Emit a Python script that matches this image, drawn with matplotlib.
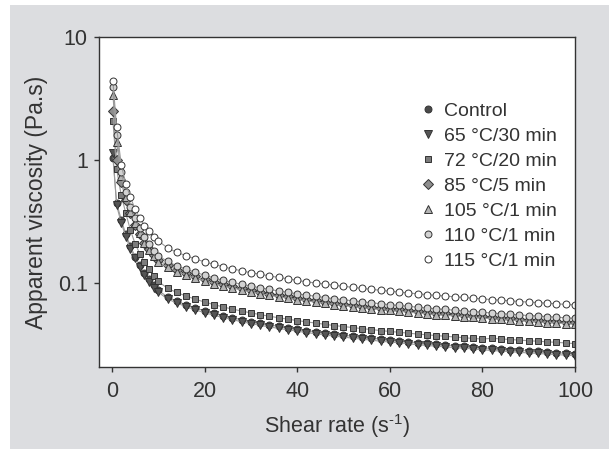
import matplotlib
matplotlib.use("Agg")
import matplotlib.pyplot as plt
from matplotlib.patches import Rectangle
from matplotlib.ticker import FixedLocator, NullLocator, FixedFormatter

plt.rcParams['font.family'] = ['Liberation Sans', 'DejaVu Sans']
plt.rcParams['mathtext.fontset'] = 'custom'
plt.rcParams['mathtext.rm'] = 'Liberation Sans'

# shear rate (1/s)
shear_rate = [0.2, 1, 2, 3, 4, 5, 6, 7, 8, 9, 10,
              12, 14, 16, 18, 20, 22, 24, 26, 28, 30,
              32, 34, 36, 38, 40, 42, 44, 46, 48, 50,
              52, 54, 56, 58, 60, 62, 64, 66, 68, 70,
              72, 74, 76, 78, 80, 82, 84, 86, 88, 90,
              92, 94, 96, 98, 100]

# apparent viscosity (Pa.s)
control = [1.05, 0.45, 0.33, 0.25, 0.20, 0.165, 0.14, 0.122, 0.108, 0.097, 0.088,
           0.0776, 0.0718, 0.0672, 0.0633, 0.0601, 0.0573, 0.0548, 0.0527, 0.0508, 0.0490,
           0.0475, 0.0461, 0.0448, 0.0436, 0.0425, 0.0415, 0.0405, 0.0396, 0.0388, 0.0380,
           0.0373, 0.0366, 0.0360, 0.0353, 0.0347, 0.0342, 0.0336, 0.0331, 0.0326, 0.0321,
           0.0317, 0.0313, 0.0309, 0.0304, 0.0301, 0.0297, 0.0293, 0.0290, 0.0286, 0.0283,
           0.0281, 0.0277, 0.0275, 0.0271, 0.0269]
t65_30 = [1.15, 0.43, 0.31, 0.24, 0.19, 0.16, 0.135, 0.117, 0.103, 0.092, 0.085,
          0.0749, 0.0693, 0.0649, 0.0611, 0.0580, 0.0553, 0.0529, 0.0508, 0.0490, 0.0473,
          0.0458, 0.0444, 0.0432, 0.0421, 0.0410, 0.0400, 0.0391, 0.0382, 0.0374, 0.0367,
          0.0360, 0.0353, 0.0347, 0.0340, 0.0335, 0.0330, 0.0324, 0.0319, 0.0314, 0.0310,
          0.0306, 0.0302, 0.0298, 0.0294, 0.0290, 0.0286, 0.0283, 0.0280, 0.0276, 0.0273,
          0.0271, 0.0267, 0.0265, 0.0262, 0.0259]
t72_20 = [2.1, 0.85, 0.52, 0.37, 0.27, 0.21, 0.175, 0.15, 0.13, 0.115, 0.104,
          0.0913, 0.0845, 0.0791, 0.0745, 0.0707, 0.0674, 0.0645, 0.0620, 0.0598, 0.0577,
          0.0559, 0.0542, 0.0527, 0.0513, 0.0500, 0.0488, 0.0477, 0.0466, 0.0456, 0.0447,
          0.0439, 0.0430, 0.0423, 0.0415, 0.0408, 0.0402, 0.0395, 0.0389, 0.0383, 0.0378,
          0.0373, 0.0368, 0.0363, 0.0358, 0.0354, 0.0359, 0.0355, 0.0351, 0.0347, 0.0343,
          0.0340, 0.0336, 0.0333, 0.0329, 0.0325]
t85_5 = [2.5, 1.0, 0.66, 0.48, 0.37, 0.30, 0.25, 0.215, 0.19, 0.17, 0.155,
         0.140, 0.129, 0.121, 0.114, 0.108, 0.103, 0.0987, 0.0949, 0.0915, 0.0883,
         0.0855, 0.0829, 0.0806, 0.0785, 0.0765, 0.0747, 0.0730, 0.0713, 0.0698, 0.0684,
         0.0672, 0.0658, 0.0647, 0.0635, 0.0624, 0.0615, 0.0604, 0.0595, 0.0586, 0.0578,
         0.0571, 0.0563, 0.0555, 0.0548, 0.0542, 0.0534, 0.0528, 0.0522, 0.0516, 0.0509,
         0.0505, 0.0499, 0.0494, 0.0488, 0.0483]
t105_1 = [3.4, 1.4, 0.74, 0.50, 0.38, 0.31, 0.255, 0.215, 0.188, 0.166, 0.150,
          0.135, 0.125, 0.117, 0.110, 0.105, 0.0998, 0.0955, 0.0918, 0.0885, 0.0854,
          0.0827, 0.0802, 0.0780, 0.0759, 0.0740, 0.0722, 0.0706, 0.0690, 0.0675, 0.0662,
          0.0650, 0.0636, 0.0626, 0.0614, 0.0604, 0.0595, 0.0585, 0.0576, 0.0567, 0.0559,
          0.0552, 0.0545, 0.0537, 0.0530, 0.0524, 0.0517, 0.0511, 0.0505, 0.0499, 0.0493,
          0.0488, 0.0482, 0.0478, 0.0472, 0.0468]
t110_1 = [3.9, 1.6, 0.80, 0.55, 0.42, 0.34, 0.28, 0.24, 0.21, 0.185, 0.168,
          0.151, 0.139, 0.131, 0.123, 0.117, 0.111, 0.106, 0.102, 0.0987, 0.0952,
          0.0922, 0.0894, 0.0870, 0.0846, 0.0825, 0.0805, 0.0787, 0.0769, 0.0752, 0.0738,
          0.0724, 0.0710, 0.0698, 0.0685, 0.0673, 0.0663, 0.0652, 0.0642, 0.0632, 0.0624,
          0.0615, 0.0607, 0.0599, 0.0591, 0.0584, 0.0576, 0.0569, 0.0563, 0.0556, 0.0549,
          0.0545, 0.0538, 0.0533, 0.0526, 0.0521]
t115_1 = [4.4, 1.85, 0.92, 0.64, 0.50, 0.40, 0.34, 0.295, 0.265, 0.24, 0.222,
          0.194, 0.179, 0.168, 0.158, 0.150, 0.143, 0.137, 0.131, 0.127, 0.122,
          0.119, 0.115, 0.112, 0.109, 0.106, 0.103, 0.101, 0.0988, 0.0967, 0.0948,
          0.0931, 0.0912, 0.0897, 0.0880, 0.0865, 0.0852, 0.0837, 0.0825, 0.0812, 0.0801,
          0.0791, 0.0780, 0.0770, 0.0759, 0.0750, 0.0740, 0.0731, 0.0723, 0.0714, 0.0706,
          0.0700, 0.0691, 0.0685, 0.0676, 0.0670]

labels = ['Control', '65 °C/30 min', '72 °C/20 min', '85 °C/5 min',
          '105 °C/1 min', '110 °C/1 min', '115 °C/1 min']
series = [control, t65_30, t72_20, t85_5, t105_1, t110_1, t115_1]
markers = ['o', 'v', 's', 'D', '^', 'o', 'o']
fills = ['#4a4a4a', '#555555', '#7b7b7b', '#8e8e8e', '#b4b4b4', '#d2d2d2', '#ffffff']
sizes = [5.0, 5.5, 5.0, 4.6, 5.5, 5.0, 5.0]

fig = plt.figure(figsize=(6.09, 4.49), dpi=100)
fig.patch.set_facecolor('white')
fig.patches.append(Rectangle((10 / 609, 0), 1 - 10 / 609, 1 - 5 / 449,
                             transform=fig.transFigure, facecolor='#dcdde0',
                             edgecolor='none', zorder=-10))

ax = fig.add_axes([99 / 609, 1 - 367 / 449, 476 / 609, 330 / 449])
ax.set_facecolor('white')

for y, lab, m, fc, ms in zip(series, labels, markers, fills, sizes):
    ax.plot(shear_rate, y, '-', color='#9a9a9a', lw=0.8, marker=m, ms=ms,
            mfc=fc, mec='#333333', mew=0.7, label=lab)

ax.set_yscale('log')
ax.set_xlim(-2.8, 100)
ax.set_ylim(0.021, 10)
ax.set_xticks([0, 20, 40, 60, 80, 100])
ax.yaxis.set_major_locator(FixedLocator([0.1, 1, 10]))
ax.yaxis.set_major_formatter(FixedFormatter(['0.1', '1', '10']))
ax.yaxis.set_minor_locator(NullLocator())

txt = '#333333'
for s in ax.spines.values():
    s.set_color('#333333')
    s.set_linewidth(1.0)
ax.tick_params(axis='both', direction='out', length=3.6, width=1, color='#333333',
               labelsize=15.5, labelcolor=txt, pad=4.5)
ax.tick_params(axis='x', pad=6.5)

ax.set_xlabel('Shear rate (s$^{\\text{-1}}$)', fontsize=15.5, color=txt, labelpad=7)
ax.set_ylabel('Apparent viscosity (Pa.s)', fontsize=16.5, color=txt, labelpad=7)

leg = ax.legend(loc='upper left', bbox_to_anchor=(0.675, 0.803), frameon=False,
                fontsize=14, handlelength=0.8, handletextpad=0.4, labelspacing=0.38,
                borderpad=0, borderaxespad=0)
for t in leg.get_texts():
    t.set_color(txt)
for h in leg.legend_handles:
    h.set_linestyle('none')

fig.savefig('out.png', dpi=100)
